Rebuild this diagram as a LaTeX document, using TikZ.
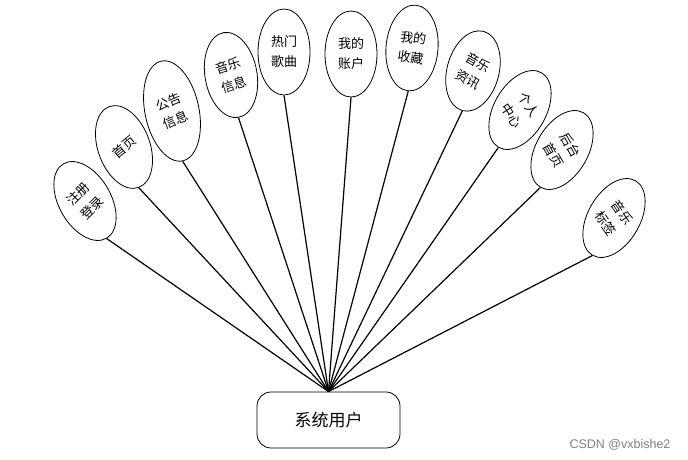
\documentclass[tikz,border=0pt]{standalone}
\usepackage{fontspec}
\newfontfamily\cjk{Noto Sans CJK SC}
\newfontfamily\wmfont{Liberation Sans}
\usetikzlibrary{shapes.geometric}

\begin{document}
\begin{tikzpicture}[
  x=1pt,y=1pt,
  font=\cjk\fontsize{13}{20}\selectfont,
  ell/.style={draw,ellipse,line width=0.8pt,minimum width=52pt,minimum height=86pt,inner sep=0pt},
  txt/.style={align=center,inner sep=0pt},
  usr/.style={draw,rounded corners=14pt,line width=0.8pt,minimum width=143pt,minimum height=56pt,font=\cjk\fontsize{17}{20}\selectfont},
  conn/.style={line width=1.2pt}
]
\useasboundingbox (0,0) rectangle (688,460);

\node[usr] (user) at (328.5,40) {系统用户};

\node[ell,rotate=30] (e1) at (85,259) {};
\node[txt,rotate=45] (t1) at (e1) {注册\\登录};
\node[ell,rotate=20] (e2) at (124,313) {};
\node[txt,rotate=40] (t2) at (e2) {首页};
\node[ell,rotate=12,minimum width=54pt,minimum height=102pt] (e3) at (172,349) {};
\node[txt,rotate=22] (t3) at (e3) {公告\\信息};
\node[ell,rotate=10] (e4) at (231,385) {};
\node[txt,rotate=18] (t4) at (e4) {音乐\\信息};
\node[ell] (e5) at (284,408) {};
\node[txt] (t5) at (e5) {热门\\歌曲};
\node[ell] (e6) at (351,406) {};
\node[txt] (t6) at (e6) {我的\\账户};
\node[ell,rotate=-5] (e7) at (412,412) {};
\node[txt,rotate=-8] (t7) at (e7) {我的\\收藏};
\node[ell,rotate=-15,minimum height=82pt] (e8) at (473,389) {};
\node[txt,rotate=-30] (t8) at (e8) {音乐\\资讯};
\node[ell,rotate=-30] (e9) at (520,350) {};
\node[txt,rotate=-57] (t9) at (e9) {个人\\中心};
\node[ell,rotate=-30] (e10) at (562,310) {};
\node[txt,rotate=-60] (t10) at (e10) {后台\\首页};
\node[ell,rotate=-30] (e11) at (614,242) {};
\node[txt,rotate=-55] (t11) at (e11) {音乐\\标签};

\draw[conn] (user.north)--(e1.south); \draw[conn] (user.north)--(e2.south); \draw[conn] (user.north)--(e3.south);
\draw[conn] (user.north)--(e4.south); \draw[conn] (user.north)--(e5.south); \draw[conn] (user.north)--(e6.south);
\draw[conn] (user.north)--(e7.south); \draw[conn] (user.north)--(e8.south); \draw[conn] (user.north)--(e9.south);
\draw[conn] (user.north)--(e10.south); \draw[conn] (user.north)--(e11.south);

\node[font=\wmfont\fontsize{12.5}{14}\selectfont,text=gray] (mark) at (620,15) {CSDN @vxbishe2};
\end{tikzpicture}
\end{document}
